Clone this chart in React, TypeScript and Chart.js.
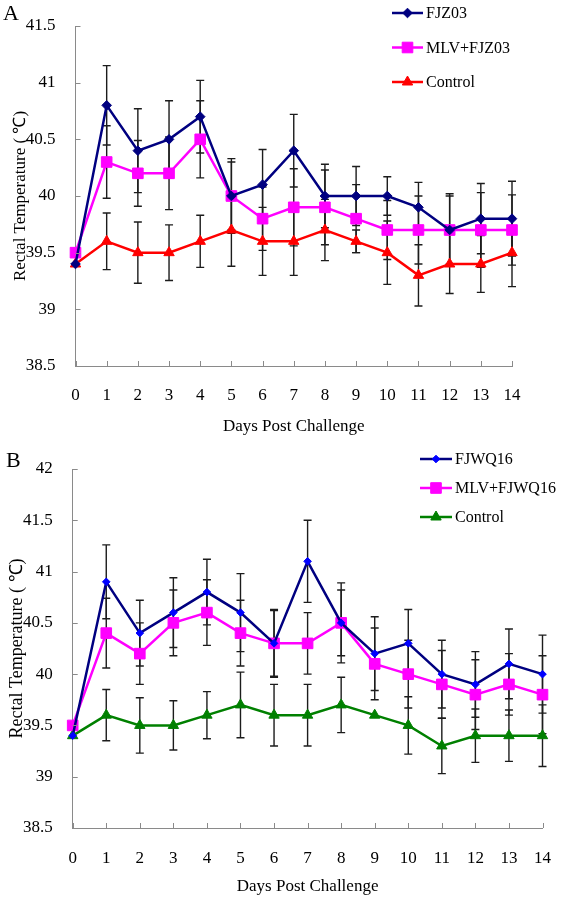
import React, { useEffect, useRef } from "react";
import { Chart, registerables } from "chart.js";
import { drawPoint } from "chart.js/helpers";

Chart.register(...registerables);

// ---------- data ----------
const days = ["0", "1", "2", "3", "4", "5", "6", "7", "8", "9", "10", "11", "12", "13", "14"];

const yTicksA = [38.5, 39, 39.5, 40, 40.5, 41, 41.5];
const yTicksB = [38.5, 39, 39.5, 40, 40.5, 41, 41.5, 42];

const fjz03 = [39.4, 40.8, 40.4, 40.5, 40.7, 40.0, 40.1, 40.4, 40.0, 40.0, 40.0, 39.9, 39.7, 39.8, 39.8];
const fjz03Err = [0, 0.35, 0.37, 0.34, 0.32, 0.33, 0.31, 0.32, 0.28, 0.26, 0.17, 0.22, 0.32, 0.31, 0.33];
const mlvFjz03 = [39.5, 40.3, 40.2, 40.2, 40.5, 40.0, 39.8, 39.9, 39.9, 39.8, 39.7, 39.7, 39.7, 39.7, 39.7];
const mlvFjz03Err = [0, 0.32, 0.29, 0.32, 0.34, 0.3, 0.28, 0.34, 0.33, 0.3, 0.26, 0.3, 0.3, 0.33, 0.31];
const controlA = [39.4, 39.6, 39.5, 39.5, 39.6, 39.7, 39.6, 39.6, 39.7, 39.6, 39.5, 39.3, 39.4, 39.4, 39.5];
const controlAErr = [0, 0.25, 0.27, 0.245, 0.23, 0.32, 0.3, 0.3, 0.27, 0.1, 0.28, 0.27, 0.26, 0.25, 0.3];

const fjwq16 = [39.4, 40.9, 40.4, 40.6, 40.8, 40.6, 40.3, 41.1, 40.5, 40.2, 40.3, 40.0, 39.9, 40.1, 40.0];
const fjwq16Err = [0, 0.36, 0.32, 0.34, 0.32, 0.38, 0.33, 0.4, 0.39, 0.36, 0.33, 0.33, 0.32, 0.34, 0.38];
const mlvFjwq16 = [39.5, 40.4, 40.2, 40.5, 40.6, 40.4, 40.3, 40.3, 40.5, 40.1, 40.0, 39.9, 39.8, 39.9, 39.8];
const mlvFjwq16Err = [0, 0.34, 0.3, 0.32, 0.32, 0.32, 0.32, 0.3, 0.32, 0.35, 0.33, 0.33, 0.34, 0.3, 0.38];
const controlB = [39.4, 39.6, 39.5, 39.5, 39.6, 39.7, 39.6, 39.6, 39.7, 39.6, 39.5, 39.3, 39.4, 39.4, 39.4];
const controlBErr = [0, 0.25, 0.27, 0.24, 0.23, 0.32, 0.3, 0.3, 0.27, 0, 0.28, 0.27, 0.26, 0.25, 0.3];

// ---------- styling ----------
const FONT = "'Liberation Serif', 'Times New Roman', serif";
const AXIS_COLOR = "#8a8a8a";

const errorBarsPlugin = {
  id: "errorBars",
  beforeDatasetsDraw(chart: any, _args: any, opts: any) {
    const errs = opts.errors;
    if (!errs) return;
    const ys = chart.scales.y;
    const ctx = chart.ctx;
    ctx.save();
    ctx.strokeStyle = opts.color;
    ctx.lineWidth = opts.width;
    chart.data.datasets.forEach((ds: any, i: number) => {
      const e = errs[i];
      if (!e) return;
      const meta = chart.getDatasetMeta(i);
      meta.data.forEach((pt: any, j: number) => {
        const err = e[j];
        if (!err) return;
        const v = ds.data[j];
        const x = pt.x;
        const yt = ys.getPixelForValue(v + err);
        const yb = ys.getPixelForValue(v - err);
        ctx.beginPath();
        ctx.moveTo(x, yt);
        ctx.lineTo(x, yb);
        ctx.moveTo(x - opts.cap, yt);
        ctx.lineTo(x + opts.cap, yt);
        ctx.moveTo(x - opts.cap, yb);
        ctx.lineTo(x + opts.cap, yb);
        ctx.stroke();
      });
    });
    ctx.restore();
  },
};

const innerTicksPlugin = {
  id: "innerTicks",
  afterDatasetsDraw(chart: any, _args: any, opts: any) {
    const ctx = chart.ctx;
    const xs = chart.scales.x;
    const ys = chart.scales.y;
    const area = chart.chartArea;
    ctx.save();
    ctx.strokeStyle = AXIS_COLOR;
    ctx.lineWidth = 1;
    ctx.beginPath();
    xs.ticks.forEach((_t: any, i: number) => {
      const x = Math.round(xs.getPixelForTick(i)) + 0.5;
      ctx.moveTo(x, area.bottom);
      ctx.lineTo(x, area.bottom - opts.len);
    });
    ys.ticks.forEach((_t: any, i: number) => {
      const y = Math.round(ys.getPixelForTick(i)) + 0.5;
      ctx.moveTo(area.left, y);
      ctx.lineTo(area.left + opts.len, y);
    });
    ctx.stroke();
    ctx.restore();
  },
};

const sideLegendPlugin = {
  id: "sideLegend",
  afterDraw(chart: any, _args: any, opts: any) {
    const ctx = chart.ctx;
    chart.data.datasets.forEach((ds: any, i: number) => {
      const y = opts.y + i * opts.rowGap;
      ctx.save();
      ctx.strokeStyle = ds.borderColor;
      ctx.lineWidth = ds.borderWidth;
      ctx.beginPath();
      ctx.moveTo(opts.x, y);
      ctx.lineTo(opts.x + opts.lineLen, y);
      ctx.stroke();
      ctx.fillStyle = ds.pointBackgroundColor;
      ctx.strokeStyle = ds.pointBorderColor;
      ctx.lineWidth = ds.pointBorderWidth;
      drawPoint(
        ctx,
        { pointStyle: ds.pointStyle, radius: ds.pointRadius, rotation: 0, borderWidth: ds.pointBorderWidth },
        opts.x + opts.lineLen / 2,
        y
      );
      ctx.fillStyle = "#000";
      ctx.font = `${opts.fontSize}px ${FONT}`;
      ctx.textBaseline = "middle";
      ctx.textAlign = "left";
      ctx.fillText(ds.label, opts.x + opts.lineLen + opts.textGap, y + 1);
      ctx.restore();
    });
  },
};

function series(label: string, data: number[], line: string, marker: string, style: string, radius: number) {
  return {
    label,
    data,
    borderColor: line,
    backgroundColor: marker,
    borderWidth: 2.5,
    pointStyle: style,
    pointRadius: radius,
    pointHoverRadius: radius,
    pointBackgroundColor: marker,
    pointBorderColor: marker,
    pointBorderWidth: 1,
    tension: 0,
    fill: false,
  };
}

function buildConfig(p: any) {
  return {
    type: "line",
    data: { labels: days, datasets: p.datasets },
    options: {
      responsive: false,
      animation: false,
      devicePixelRatio: 1,
      events: [],
      layout: { padding: p.padding },
      plugins: {
        legend: { display: false },
        tooltip: { enabled: false },
        errorBars: { errors: p.errors, color: "#1c1c1c", width: 1.4, cap: 4 },
        innerTicks: { len: 5 },
        sideLegend: p.legend,
      },
      scales: {
        x: {
          type: "category",
          offset: false,
          grid: { display: false },
          border: { display: true, color: AXIS_COLOR, width: 1 },
          ticks: {
            color: "#000",
            font: { family: FONT, size: 17 },
            padding: p.xTickPad,
            maxRotation: 0,
            autoSkip: false,
          },
          title: {
            display: true,
            text: "Days Post Challenge",
            color: "#000",
            font: { family: FONT, size: 17 },
            padding: { top: 0, bottom: p.xTitlePad },
          },
          afterFit(s: any) {
            s.height = p.xHeight;
          },
        },
        y: {
          min: p.yTicks[0],
          max: p.yTicks[p.yTicks.length - 1],
          grid: { display: false },
          border: { display: true, color: AXIS_COLOR, width: 1 },
          afterBuildTicks(s: any) {
            s.ticks = p.yTicks.map((v: number) => ({ value: v }));
          },
          ticks: {
            color: "#000",
            font: { family: FONT, size: 17 },
            padding: 12,
            callback: (v: any) => String(v),
          },
          title: {
            display: true,
            text: "Rectal Temperature ( \u2103)",
            color: "#000",
            font: { family: FONT, size: p.yTitleSize },
            padding: { top: p.yTitlePad, bottom: 0 },
          },
          afterFit(s: any) {
            s.width = p.yWidth;
          },
        },
      },
    },
    plugins: [errorBarsPlugin, innerTicksPlugin, sideLegendPlugin],
  };
}

const configA = () =>
  buildConfig({
    datasets: [
      series("FJZ03", fjz03, "#000080", "#000080", "rectRot", 4.8),
      series("MLV+FJZ03", mlvFjz03, "#FF00FF", "#FF00FF", "rect", 7.5),
      series("Control", controlA, "#FF0000", "#FF0000", "triangle", 6),
    ],
    errors: [fjz03Err, mlvFjz03Err, controlAErr],
    yTicks: yTicksA,
    padding: { left: 0, right: 51, top: 26, bottom: 0 },
    yWidth: 75.5,
    xHeight: 89,
    xTickPad: 11,
    xTitlePad: 18,
    yTitlePad: 10,
    yTitleSize: 17,
    legend: { x: 392, y: 13, rowGap: 34.5, lineLen: 31, textGap: 3, fontSize: 16 },
  });

const configB = () =>
  buildConfig({
    datasets: [
      series("FJWQ16", fjwq16, "#000080", "#0000FF", "rectRot", 3.8),
      series("MLV+FJWQ16", mlvFjwq16, "#FF00FF", "#FF00FF", "rect", 7.5),
      series("Control", controlB, "#008000", "#008000", "triangle", 6),
    ],
    errors: [fjwq16Err, mlvFjwq16Err, controlBErr],
    yTicks: yTicksB,
    padding: { left: 0, right: 14, top: 29, bottom: 0 },
    yWidth: 72.7,
    xHeight: 69,
    xTickPad: 12,
    xTitlePad: 0,
    yTitlePad: 6,
    yTitleSize: 18,
    legend: { x: 420, y: 19, rowGap: 29, lineLen: 32, textGap: 3, fontSize: 16 },
  });

export default function App() {
  const refA = useRef<HTMLCanvasElement | null>(null);
  const refB = useRef<HTMLCanvasElement | null>(null);

  useEffect(() => {
    const a = new Chart(refA.current as HTMLCanvasElement, configA() as any);
    const b = new Chart(refB.current as HTMLCanvasElement, configB() as any);
    return () => {
      a.destroy();
      b.destroy();
    };
  }, []);

  const letter: React.CSSProperties = {
    position: "absolute",
    fontFamily: FONT,
    fontSize: 22,
    lineHeight: "26px",
    color: "#000",
  };

  return (
    <div style={{ position: "absolute", left: 0, top: 0, width: 563, height: 897, background: "#fff" }}>
      <canvas
        ref={refA}
        width={563}
        height={455}
        style={{ position: "absolute", left: 0, top: 0, width: 563, height: 455 }}
      />
      <canvas
        ref={refB}
        width={563}
        height={457}
        style={{ position: "absolute", left: 0, top: 440, width: 563, height: 457 }}
      />
      <div style={{ ...letter, left: 3, top: 0 }}>A</div>
      <div style={{ ...letter, left: 6, top: 447 }}>B</div>
    </div>
  );
}
